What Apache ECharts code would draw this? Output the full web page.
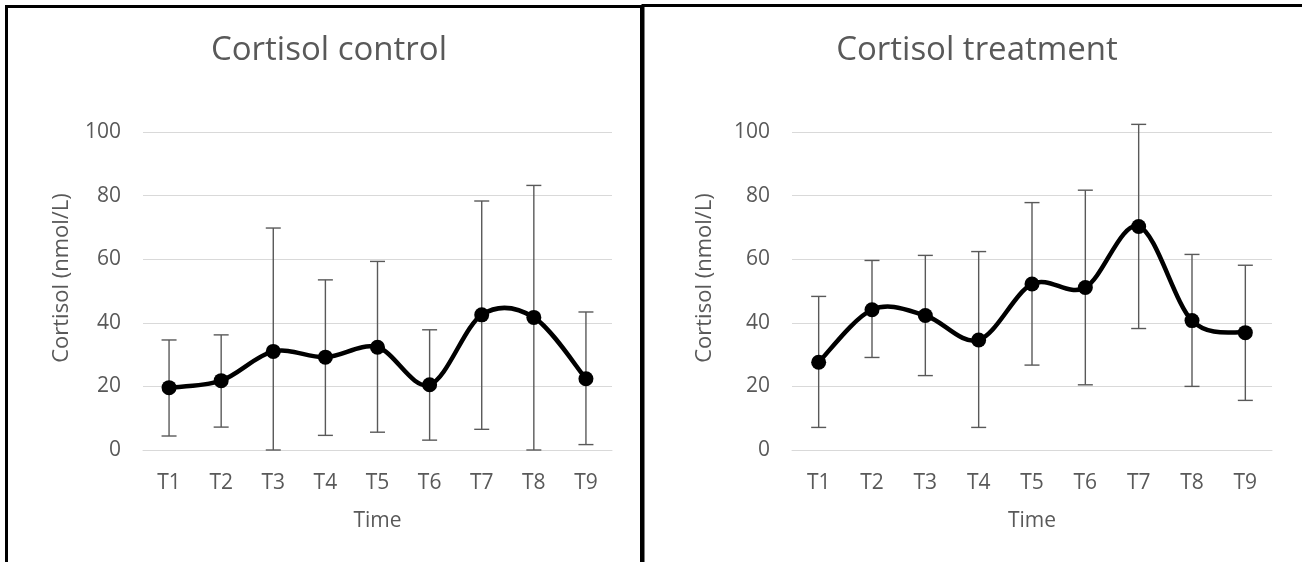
<!DOCTYPE html>
<html>
<head>
<meta charset="utf-8">
<script src="https://cdn.jsdelivr.net/npm/echarts@6/dist/echarts.min.js"></script>
<style>
    html, body { margin: 0; padding: 0; background: #fff; }
    #main { width: 1302px; height: 562px; }
</style>
</head>
<body>
<div id="main"></div>
<script>
// values
var categories = ['T1', 'T2', 'T3', 'T4', 'T5', 'T6', 'T7', 'T8', 'T9'];
var yTicks = [0, 20, 40, 60, 80, 100];

var controlMean = [19.6, 21.8, 31.0, 29.2, 32.3, 20.5, 42.5, 41.7, 22.4];
var controlHigh = [34.6, 36.2, 69.8, 53.5, 59.3, 37.8, 78.3, 83.2, 43.4];
var controlLow  = [4.4, 7.2, 0, 4.6, 5.6, 3.1, 6.5, 0, 1.7];

var treatMean = [27.6, 44.1, 42.3, 34.6, 52.2, 51.1, 70.3, 40.7, 36.9];
var treatHigh = [48.3, 59.6, 61.2, 62.4, 77.8, 81.7, 102.4, 61.5, 58.1];
var treatLow  = [7.1, 29.1, 23.4, 7.1, 26.7, 20.5, 38.2, 20.0, 15.6];

var FONT = "'Open Sans', sans-serif";
var GRAY = '#595959';

function pairs(values) {
    return values.map(function (v, i) { return [i, v]; });
}

function errorData(low, high) {
    return categories.map(function (c, i) {
        return [i, low[i], high[i]];
    });
}

// vertical bar with caps
function renderErrorBar(params, api) {
    var x = api.value(0);
    var lo = api.coord([x, api.value(1)]);
    var hi = api.coord([x, api.value(2)]);
    var half = 7.5;
    var style = { stroke: GRAY, lineWidth: 1.4 };
    return {
        type: 'group',
        children: [
            { type: 'line', shape: { x1: lo[0], y1: lo[1], x2: hi[0], y2: hi[1] }, style: style },
            { type: 'line', shape: { x1: hi[0] - half, y1: hi[1], x2: hi[0] + half, y2: hi[1] }, style: style },
            { type: 'line', shape: { x1: lo[0] - half, y1: lo[1], x2: lo[0] + half, y2: lo[1] }, style: style }
        ]
    };
}

// excel-like smoothed line: one bezier segment per point (catmull-rom, 1/6)
function renderSmooth(params, api) {
    var n = params.dataInsideLength || categories.length;
    var i = params.dataIndexInside;
    if (i >= n - 1) return null;
    function pt(k) {
        k = Math.max(0, Math.min(n - 1, k));
        return api.coord([api.value(0, k), api.value(1, k)]);
    }
    var p0 = pt(i - 1), p1 = pt(i), p2 = pt(i + 1), p3 = pt(i + 2);
    var t = 1 / 6;
    return {
        type: 'bezierCurve',
        shape: {
            x1: p1[0], y1: p1[1],
            x2: p2[0], y2: p2[1],
            cpx1: p1[0] + (p2[0] - p0[0]) * t, cpy1: p1[1] + (p2[1] - p0[1]) * t,
            cpx2: p2[0] - (p3[0] - p1[0]) * t, cpy2: p2[1] - (p3[1] - p1[1]) * t
        },
        style: { stroke: '#000', lineWidth: 4.5, fill: 'none', lineCap: 'round' }
    };
}

function xAxisCfg(idx) {
    return {
        type: 'category',
        gridIndex: idx,
        data: categories,
        boundaryGap: true,
        name: 'Time',
        nameLocation: 'middle',
        nameGap: 61,
        nameTextStyle: { color: GRAY, fontSize: 21, fontFamily: FONT },
        axisLine: { show: true, lineStyle: { color: '#d9d9d9', width: 1 } },
        axisTick: { show: false },
        axisLabel: { color: GRAY, fontSize: 21, fontFamily: FONT, margin: 23 }
    };
}

function yAxisCfg(idx, gap) {
    return {
        type: 'value',
        gridIndex: idx,
        min: yTicks[0],
        max: yTicks[yTicks.length - 1],
        interval: 20,
        name: 'Cortisol (nmol/L)',
        nameLocation: 'middle',
        nameRotate: 90,
        nameGap: gap,
        nameTextStyle: { color: GRAY, fontSize: 22, fontFamily: FONT, padding: [0, 0, 0, 26] },
        axisLine: { show: false },
        axisTick: { show: false },
        axisLabel: { color: GRAY, fontSize: 21, fontFamily: FONT, margin: 22 },
        splitLine: { lineStyle: { color: '#d9d9d9', width: 1 } }
    };
}

function lineSeries(idx, data) {
    return {
        type: 'custom',
        xAxisIndex: idx,
        yAxisIndex: idx,
        data: pairs(data),
        renderItem: renderSmooth,
        clip: false,
        z: 3
    };
}

function dotSeries(idx, data) {
    return {
        type: 'scatter',
        xAxisIndex: idx,
        yAxisIndex: idx,
        data: pairs(data),
        symbol: 'circle',
        symbolSize: 15,
        itemStyle: { color: '#000', opacity: 1 },
        z: 5
    };
}

function barSeries(idx, low, high) {
    return {
        type: 'custom',
        xAxisIndex: idx,
        yAxisIndex: idx,
        data: errorData(low, high),
        renderItem: renderErrorBar,
        clip: false,
        z: 4
    };
}

var chart = echarts.init(document.getElementById('main'));
chart.setOption({
    animation: false,
    backgroundColor: '#fff',
    title: [
        { text: 'Cortisol control', left: 324, top: 29, textAlign: 'center',
          textStyle: { color: GRAY, fontSize: 33, fontWeight: 'normal', fontFamily: FONT } },
        { text: 'Cortisol treatment', left: 972, top: 29, textAlign: 'center',
          textStyle: { color: GRAY, fontSize: 33, fontWeight: 'normal', fontFamily: FONT } }
    ],
    grid: [
        { left: 143, top: 132, width: 469, height: 318 },
        { left: 792, top: 132, width: 480, height: 318 }
    ],
    xAxis: [xAxisCfg(0), xAxisCfg(1)],
    yAxis: [yAxisCfg(0, 70), yAxisCfg(1, 76)],
    series: [
        barSeries(0, controlLow, controlHigh),
        lineSeries(0, controlMean),
        dotSeries(0, controlMean),
        barSeries(1, treatLow, treatHigh),
        lineSeries(1, treatMean),
        dotSeries(1, treatMean)
    ],
    graphic: [
        { type: 'rect', shape: { x: 6.5, y: 6.5, width: 635, height: 700 },
          style: { fill: 'none', stroke: '#000', lineWidth: 3 }, silent: true },
        { type: 'rect', shape: { x: 643, y: 5.5, width: 700, height: 700 },
          style: { fill: 'none', stroke: '#000', lineWidth: 3 }, silent: true }
    ]
});
window.addEventListener('resize', function () {
    chart.resize();
});
</script>
</body>
</html>
